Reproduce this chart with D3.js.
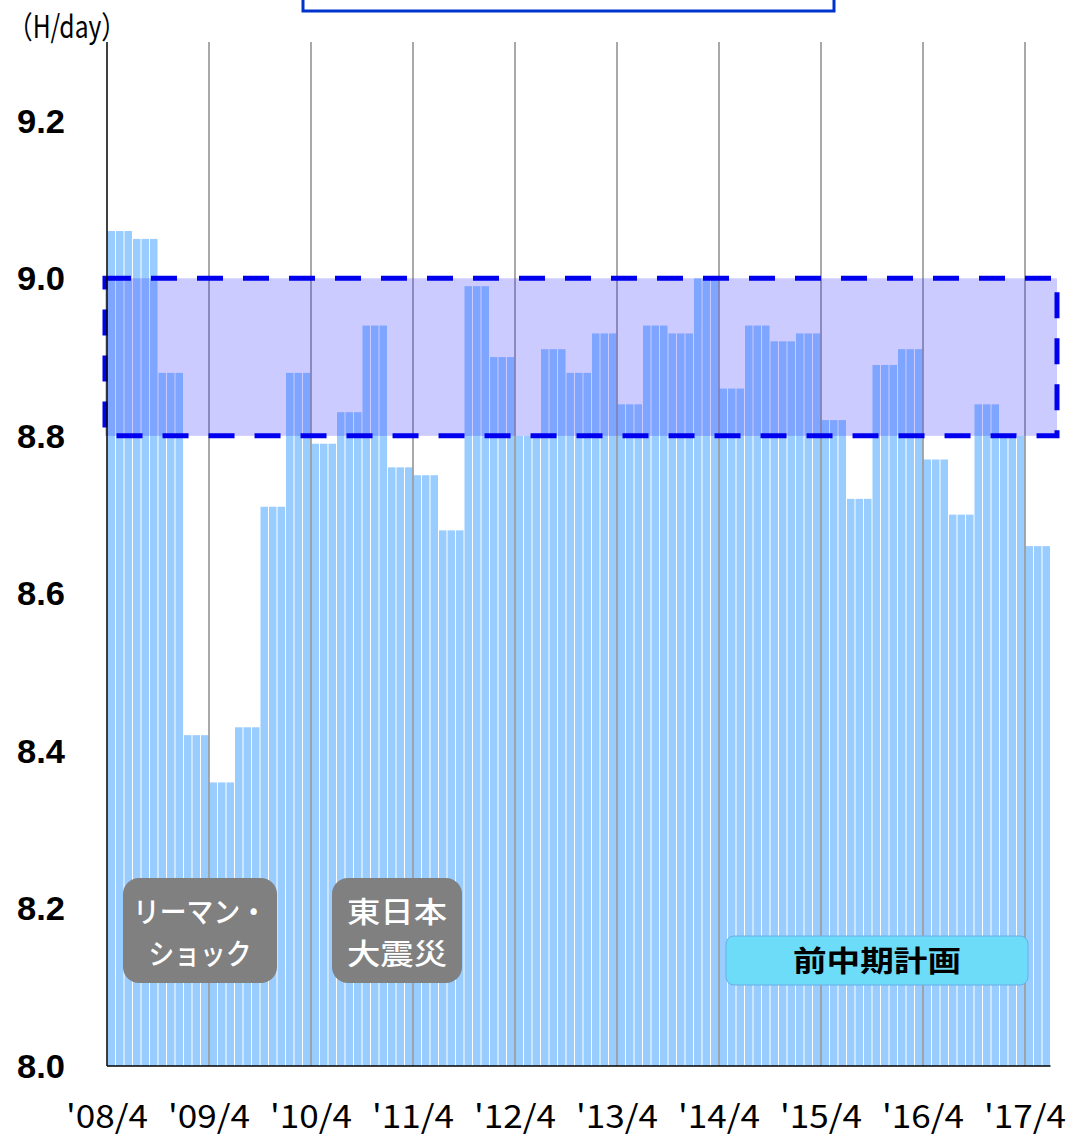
<!DOCTYPE html>
<html><head><meta charset="utf-8">
<script src="https://cdn.jsdelivr.net/npm/d3@7"></script>
<style>body{margin:0;background:#fff;} svg{display:block;}</style>
</head><body>
<script>
// quarterly values (each quarter = 3 monthly bars), from '08/4 to '17/6
const quarterValues = [9.06,9.05,8.88,8.42, 8.36,8.43,8.71,8.88, 8.79,8.83,8.94,8.76,
  8.75,8.68,8.99,8.90, 8.80,8.91,8.88,8.93, 8.84,8.94,8.93,9.00,
  8.86,8.94,8.92,8.93, 8.82,8.72,8.89,8.91, 8.77,8.70,8.84,8.80, 8.66];
const yearLabels = ["'08/4","'09/4","'10/4","'11/4","'12/4","'13/4","'14/4","'15/4","'16/4","'17/4"];
const yTicks = [8.0,8.2,8.4,8.6,8.8,9.0,9.2];
const targetRange = [8.8, 9.0];

(function(){
const months = [];
quarterValues.forEach((v,q)=>{ for(let m=0;m<3;m++) months.push({i:q*3+m, v}); });

const W=1074,H=1139;
const svg=d3.select("body").append("svg").attr("width",W).attr("height",H);
const pL=107, pR=107+months.length*8.5, pT=42, pB=1066;
const x=d3.scaleBand().domain(months.map(d=>d.i)).range([pL,pR]).paddingInner(0.12).paddingOuter(0.06);
const xs=d3.scaleLinear().domain([0,months.length]).range([pL,pR]);
const y=d3.scaleLinear().domain([8.0,9.3]).range([pB,pT]);

// top (cut-off) box
svg.append("rect").attr("x",303).attr("y",-20).attr("width",531).attr("height",31)
  .attr("fill","#fff").attr("stroke","#0033cc").attr("stroke-width",3);

// bars
svg.append("g").selectAll("rect").data(months).join("rect")
  .attr("x",d=>x(d.i)).attr("width",x.bandwidth())
  .attr("y",d=>y(d.v)).attr("height",d=>pB-y(d.v))
  .attr("fill","#99ccff");

// year gridlines
svg.append("g").selectAll("line").data(yearLabels.slice(1)).join("line")
  .attr("x1",(d,i)=>xs((i+1)*12)).attr("x2",(d,i)=>xs((i+1)*12))
  .attr("y1",pT).attr("y2",pB).attr("stroke","#8c8c8c").attr("stroke-width",1.5);

// target band
svg.append("rect").attr("x",pL-2).attr("width",1057-(pL-2))
  .attr("y",y(targetRange[1])).attr("height",y(targetRange[0])-y(targetRange[1]))
  .attr("fill","#3030ff").attr("fill-opacity",0.25)
  .attr("stroke","#0000ee").attr("stroke-width",5).attr("stroke-dasharray","26,20");

// axes
svg.append("line").attr("x1",pL).attr("x2",pL).attr("y1",pT).attr("y2",pB).attr("stroke","#000").attr("stroke-width",1.5);
svg.append("line").attr("x1",pL).attr("x2",pR).attr("y1",pB).attr("y2",pB).attr("stroke","#000").attr("stroke-width",1.5);

// y labels
svg.append("g").selectAll("text").data(yTicks).join("text")
  .attr("x",41).attr("y",d=>y(d)).attr("dy","0.36em").attr("text-anchor","middle")
  .attr("font-family","Liberation Sans, Arial, sans-serif").attr("font-weight","bold").attr("font-size",33)
  .attr("textLength",48).attr("lengthAdjust","spacingAndGlyphs")
  .text(d=>d.toFixed(1));

// x labels
svg.append("g").selectAll("text").data(yearLabels).join("text")
  .attr("x",(d,i)=>xs(i*12)).attr("y",1128).attr("text-anchor","middle")
  .attr("font-family","Noto Sans CJK JP, sans-serif").attr("font-size",32)
  .attr("textLength",82).attr("lengthAdjust","spacingAndGlyphs")
  .text(d=>d);

svg.append("text").attr("x",8).attr("y",38).attr("font-family","Noto Sans CJK JP, sans-serif")
  .attr("font-size",31).text("（H/day）").attr("textLength",118).attr("lengthAdjust","spacingAndGlyphs");

// annotations
function note(x0,y0,w,h,lines,fill,color,stroke,weight,tl,dy0){
  const g=svg.append("g");
  g.append("rect").attr("x",x0).attr("y",y0).attr("width",w).attr("height",h).attr("rx",h>80?16:8)
    .attr("fill",fill).attr("stroke",stroke||"none").attr("stroke-width",1);
  lines.forEach((t,i)=>{
    const tx=g.append("text").attr("x",x0+w/2).attr("y",y0+h/2+dy0+(i-(lines.length-1)/2)*42).attr("dy","0.36em")
      .attr("text-anchor","middle").attr("fill",color).attr("font-weight",weight)
      .attr("font-family","Noto Sans CJK JP, sans-serif").attr("font-size",29).text(t);
    if(tl&&tl[i]) tx.attr("textLength",tl[i]).attr("lengthAdjust","spacingAndGlyphs");
  });
}
note(123,878,154,105,["リーマン・","ショック"],"#808080","#fff",null,500,[134,103],3);
note(332,878,130,105,["東日本","大震災"],"#808080","#fff",null,500,[100,100],3);
note(726,936,302,49,["前中期計画"],"#6ddcf8","#000","#6aaee8",700,[168],1);
})();
</script>
</body></html>
